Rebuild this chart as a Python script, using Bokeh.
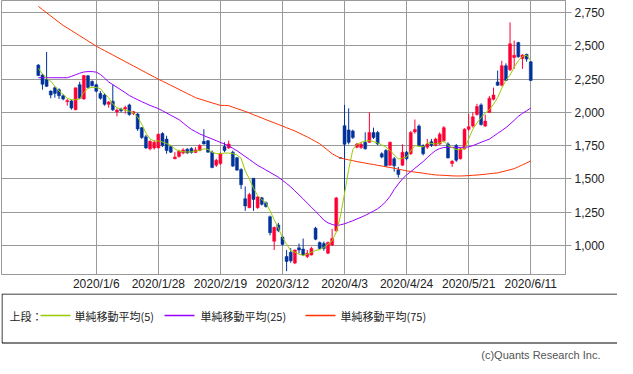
from bokeh.plotting import figure
from bokeh.layouts import column
from bokeh.models import (Range1d, FixedTicker, NumeralTickFormatter,
                          ColumnDataSource)
from bokeh.core.properties import value
from bokeh.embed import file_html
from bokeh.resources import INLINE

# ---------------- data ----------------
# trading-day index (0 = 2020/1/6)
idx = list(range(-14, 106))

opens = [2355, 2280, 2245, 2160, 2185, 2170, 2125, 2080, 2086, 2020,
         2208, 2100, 2274, 2232, 2208, 2142, 2130, 2060, 2083, 2003,
         2025, 2025, 2056, 1992, 1987, 1885, 1816, 1726, 1733, 1733,
         1841, 1799, 1743, 1652, 1669, 1694, 1723, 1728, 1699, 1713,
         1782, 1787, 1701, 1603, 1615, 1743, 1733, 1701, 1659, 1571,
         1351, 1284, 1505, 1284, 1358, 1321, 1216, 1032, 1154, 1064,
         917, 949, 868, 983, 973, 917, 929, 1130, 1022, 1015,
         942, 1003, 1110, 1659, 1900, 1868, 1860, 1738, 1735, 1775,
         1775, 1848, 1848, 1689, 1713, 1603, 1652, 1566, 1603, 1701,
         1689, 1853, 1897, 1750, 1738, 1780, 1750, 1762, 1787, 1763,
         1615, 1750, 1652, 1726, 1873, 1897, 1983, 2056, 1897, 2000,
         2098, 2228, 2204, 2350, 2319, 2412, 2524, 2404, 2436, 2380]
highs = [2362, 2290, 2453, 2165, 2195, 2180, 2135, 2100, 2095, 2185,
         2230, 2280, 2280, 2240, 2215, 2160, 2145, 2085, 2208, 2030,
         2035, 2050, 2065, 2010, 1995, 1890, 1830, 1790, 1790, 1840,
         1850, 1824, 1750, 1701, 1718, 1730, 1730, 1738, 1738, 1760,
         1873, 1792, 1713, 1652, 1700, 1775, 1787, 1713, 1665, 1580,
         1444, 1395, 1505, 1370, 1365, 1330, 1225, 1140, 1170, 1070,
         966, 980, 970, 1015, 1052, 966, 990, 1140, 1030, 1030,
         1030, 1125, 1365, 1659, 2056, 2030, 1870, 1770, 1775, 1850,
         2000, 1885, 1860, 1700, 1725, 1780, 1665, 1590, 1760, 1710,
         1860, 1946, 1910, 1760, 1800, 1800, 1810, 1850, 1897, 1775,
         1640, 1762, 1735, 1880, 1990, 2000, 2064, 2068, 1983, 2123,
         2186, 2314, 2387, 2368, 2676, 2539, 2530, 2436, 2440, 2385]
lows = [2272, 2170, 2190, 2105, 2110, 2100, 2090, 2050, 2020, 2015,
        2100, 2095, 2180, 2195, 2150, 2095, 2050, 2035, 2010, 1970,
        2000, 1990, 1975, 1980, 1860, 1800, 1725, 1715, 1720, 1730,
        1740, 1689, 1695, 1647, 1660, 1685, 1690, 1690, 1694, 1708,
        1758, 1697, 1580, 1590, 1605, 1700, 1725, 1590, 1560, 1424,
        1260, 1280, 1260, 1275, 1300, 1285, 1076, 966, 1100, 1000,
        807, 870, 860, 940, 920, 905, 925, 1040, 970, 960,
        935, 995, 1100, 1656, 1407, 1760, 1800, 1730, 1725, 1720,
        1770, 1800, 1755, 1655, 1590, 1598, 1554, 1510, 1598, 1640,
        1680, 1840, 1740, 1677, 1725, 1740, 1745, 1755, 1775, 1655,
        1591, 1628, 1645, 1720, 1860, 1885, 1975, 1900, 1890, 1995,
        2090, 2198, 2196, 2235, 2310, 2326, 2410, 2326, 2380, 2235]
closes = [2277, 2211, 2195, 2130, 2142, 2125, 2100, 2088, 2032, 2184,
          2105, 2277, 2187, 2199, 2159, 2105, 2060, 2078, 2019, 2017,
          2012, 2037, 1983, 2005, 1875, 1811, 1733, 1782, 1775, 1836,
          1750, 1713, 1701, 1664, 1708, 1718, 1694, 1699, 1718, 1750,
          1763, 1701, 1586, 1640, 1689, 1713, 1762, 1596, 1566, 1456,
          1297, 1382, 1346, 1365, 1309, 1292, 1096, 1137, 1113, 1008,
          880, 885, 966, 966, 929, 942, 978, 1047, 978, 978,
          1022, 1052, 1357, 1656, 1760, 1775, 1811, 1762, 1760, 1726,
          1848, 1811, 1762, 1664, 1598, 1775, 1598, 1534, 1701, 1652,
          1848, 1872, 1750, 1689, 1762, 1750, 1799, 1836, 1885, 1657,
          1633, 1640, 1726, 1873, 1892, 1966, 2044, 1909, 1934, 2106,
          2130, 2204, 2350, 2240, 2515, 2429, 2417, 2431, 2400, 2240]

ma5 = [2330, 2290, 2255, 2235, 2195, 2160, 2135, 2105, 2095, 2095,
       2100, 2150, 2180, 2188, 2186, 2178, 2140, 2110, 2060, 2035,
       2025, 2015, 2008, 1995, 1965, 1910, 1845, 1800, 1785, 1785,
       1778, 1765, 1752, 1725, 1710, 1704, 1702, 1703, 1708, 1715,
       1726, 1722, 1700, 1690, 1690, 1694, 1694, 1690, 1680, 1655,
       1560, 1500, 1430, 1375, 1345, 1320, 1260, 1195, 1130, 1060,
       1010, 960, 950, 935, 925, 935, 950, 962, 970, 985,
       1010, 1035, 1100, 1220, 1390, 1570, 1720, 1760, 1775, 1785,
       1787, 1780, 1770, 1755, 1740, 1715, 1680, 1650, 1655, 1665,
       1710, 1750, 1745, 1740, 1772, 1766, 1762, 1770, 1785, 1750,
       1735, 1721, 1720, 1726, 1800, 1873, 1920, 1960, 1995, 2020,
       2060, 2110, 2180, 2240, 2280, 2340, 2387, 2420, 2430, 2387]
ma25 = [2260, 2260, 2260, 2260, 2260, 2260, 2260, 2260, 2270, 2282,
        2294, 2303, 2306, 2306, 2302, 2285, 2258, 2228, 2208, 2188,
        2168, 2148, 2126, 2110, 2095, 2080, 2066, 2052, 2040, 2028,
        2012, 1995, 1978, 1962, 1945, 1920, 1895, 1872, 1855, 1838,
        1825, 1812, 1800, 1787, 1774, 1762, 1748, 1730, 1712, 1690,
        1668, 1646, 1624, 1602, 1585, 1567, 1549, 1531, 1513, 1490,
        1465, 1440, 1410, 1380, 1350, 1318, 1287, 1256, 1225, 1190,
        1170, 1158, 1150, 1155, 1163, 1174, 1186, 1199, 1212, 1226,
        1242, 1258, 1276, 1300, 1330, 1370, 1420, 1462, 1500, 1530,
        1554, 1580, 1605, 1630, 1660, 1688, 1713, 1728, 1736, 1737,
        1737, 1737, 1737, 1738, 1740, 1750, 1762, 1775, 1787, 1799,
        1820, 1842, 1863, 1885, 1912, 1940, 1970, 1992, 2012, 2032]
ma75 = [2796, 2772, 2748, 2724, 2700, 2676, 2653, 2634, 2614, 2595,
        2575, 2556, 2536, 2517, 2497, 2480, 2464, 2447, 2431, 2414,
        2398, 2381, 2365, 2348, 2332, 2315, 2299, 2282, 2266, 2249,
        2234, 2219, 2203, 2188, 2172, 2157, 2141, 2126, 2110, 2100,
        2090, 2081, 2071, 2062, 2052, 2052, 2050, 2039, 2028, 2018,
        2007, 1995, 1982, 1970, 1958, 1945, 1933, 1921, 1909, 1897,
        1884, 1872, 1860, 1845, 1830, 1815, 1798, 1781, 1764, 1739,
        1714, 1689, 1672, 1657, 1650, 1643, 1637, 1630, 1624, 1619,
        1613, 1608, 1602, 1597, 1591, 1586, 1580, 1573, 1567, 1560,
        1556, 1551, 1547, 1543, 1538, 1534, 1530, 1528, 1527, 1525,
        1523, 1522, 1522, 1523, 1525, 1527, 1529, 1532, 1535, 1539,
        1542, 1545, 1553, 1561, 1569, 1577, 1591, 1606, 1620, 1635]

grid_idx = [0, 15, 30, 45, 60, 75, 90, 105]
date_labels = ["2020/1/6", "2020/1/28", "2020/2/19", "2020/3/12",
               "2020/4/3", "2020/4/24", "2020/5/21", "2020/6/11"]
price_ticks = [1000, 1250, 1500, 1750, 2000, 2250, 2500, 2750]

ma_names = ["単純移動平均(5)", "単純移動平均(25)", "単純移動平均(75)"]
ma_colors = ["#99cc00", "#9900ff", "#ff3300"]

UP = "#ff0033"
DOWN = "#003399"
GRID = "#999999"
FONT = "Liberation Sans"
JFONT = "Noto Sans CJK JP"

# ---------------- main chart ----------------
p = figure(frame_width=564, frame_height=274,
           x_range=Range1d(-22.9, 113.4), y_range=Range1d(782, 2840),
           x_axis_location="below", y_axis_location="right",
           output_backend="svg", toolbar_location=None,
           min_border_left=1, min_border_top=0, min_border_right=52,
           min_border_bottom=16)
p.outline_line_color = GRID
p.background_fill_color = "white"
p.border_fill_color = "white"

p.ygrid.ticker = FixedTicker(ticks=price_ticks)
p.ygrid.grid_line_color = GRID
p.xgrid.ticker = FixedTicker(ticks=grid_idx)
p.xgrid.grid_line_color = GRID

ya = p.yaxis[0]
ya.ticker = FixedTicker(ticks=price_ticks)
ya.formatter = NumeralTickFormatter(format="0,0")
ya.axis_line_color = GRID
ya.major_tick_line_color = GRID
ya.major_tick_out = 6
ya.major_tick_in = 0
ya.minor_tick_line_color = None
ya.major_label_standoff = 3
ya.major_label_text_font = FONT
ya.major_label_text_font_size = "12px"
ya.major_label_text_color = "#222222"

xa = p.xaxis[0]
xa.ticker = FixedTicker(ticks=grid_idx)
xa.major_label_overrides = {t: s for t, s in zip(grid_idx, date_labels)}
xa.axis_line_color = None
xa.major_tick_line_color = None
xa.minor_tick_line_color = None
xa.major_tick_out = 0
xa.major_tick_in = 0
xa.major_label_standoff = 2
xa.major_label_text_font = FONT
xa.major_label_text_font_size = "12px"
xa.major_label_text_color = "#222222"

colors = [UP if c >= o else DOWN for o, c in zip(opens, closes)]
src = ColumnDataSource(dict(x=idx, o=opens, h=highs, l=lows, c=closes,
                            top=[max(o, c) for o, c in zip(opens, closes)],
                            bot=[min(o, c) for o, c in zip(opens, closes)],
                            col=colors))
p.segment(x0="x", y0="l", x1="x", y1="h", line_color="col", line_width=1,
          source=src)
p.vbar(x="x", width=0.72, top="top", bottom="bot", fill_color="col",
       line_color="col", line_width=0.5, source=src)

for ys, col in zip([ma75, ma25, ma5], [ma_colors[2], ma_colors[1], ma_colors[0]]):
    p.line(idx, ys, line_color=col, line_width=1)

# ---------------- legend / footer ----------------
W2, H2 = 617, 68
q = figure(frame_width=W2, frame_height=H2, x_range=Range1d(0, W2),
           y_range=Range1d(H2, 0), output_backend="svg", toolbar_location=None,
           min_border_left=0, min_border_right=0, min_border_top=0,
           min_border_bottom=0, x_axis_location=None, y_axis_location=None)
q.outline_line_color = None
q.xgrid.visible = False
q.ygrid.visible = False

q.quad(left=0.5, right=616.5, top=0.5, bottom=49.5, fill_color=None,
       line_color="black", line_width=1)
yl = 22
q.text(x=[8], y=[yl], text=["上段："], text_font=value(JFONT),
       text_font_size="11px", text_baseline="middle", text_color="#222222")
line_x0 = [39, 163, 304]
text_x0 = [73, 199, 339]
for k in range(3):
    q.segment(x0=line_x0[k], y0=yl, x1=line_x0[k] + 30, y1=yl,
              line_color=ma_colors[k], line_width=1.5)
    q.text(x=[text_x0[k]], y=[yl], text=[ma_names[k]],
           text_font=value(JFONT), text_font_size="11px",
           text_baseline="middle", text_color="#222222")
q.text(x=[599], y=[61], text=["(c)Quants Research Inc."],
       text_font=value(FONT), text_font_size="11px", text_align="right",
       text_baseline="middle", text_color="#555555")

layout = column(p, q, spacing=0)
open("out.html", "w").write(file_html(layout, INLINE))
